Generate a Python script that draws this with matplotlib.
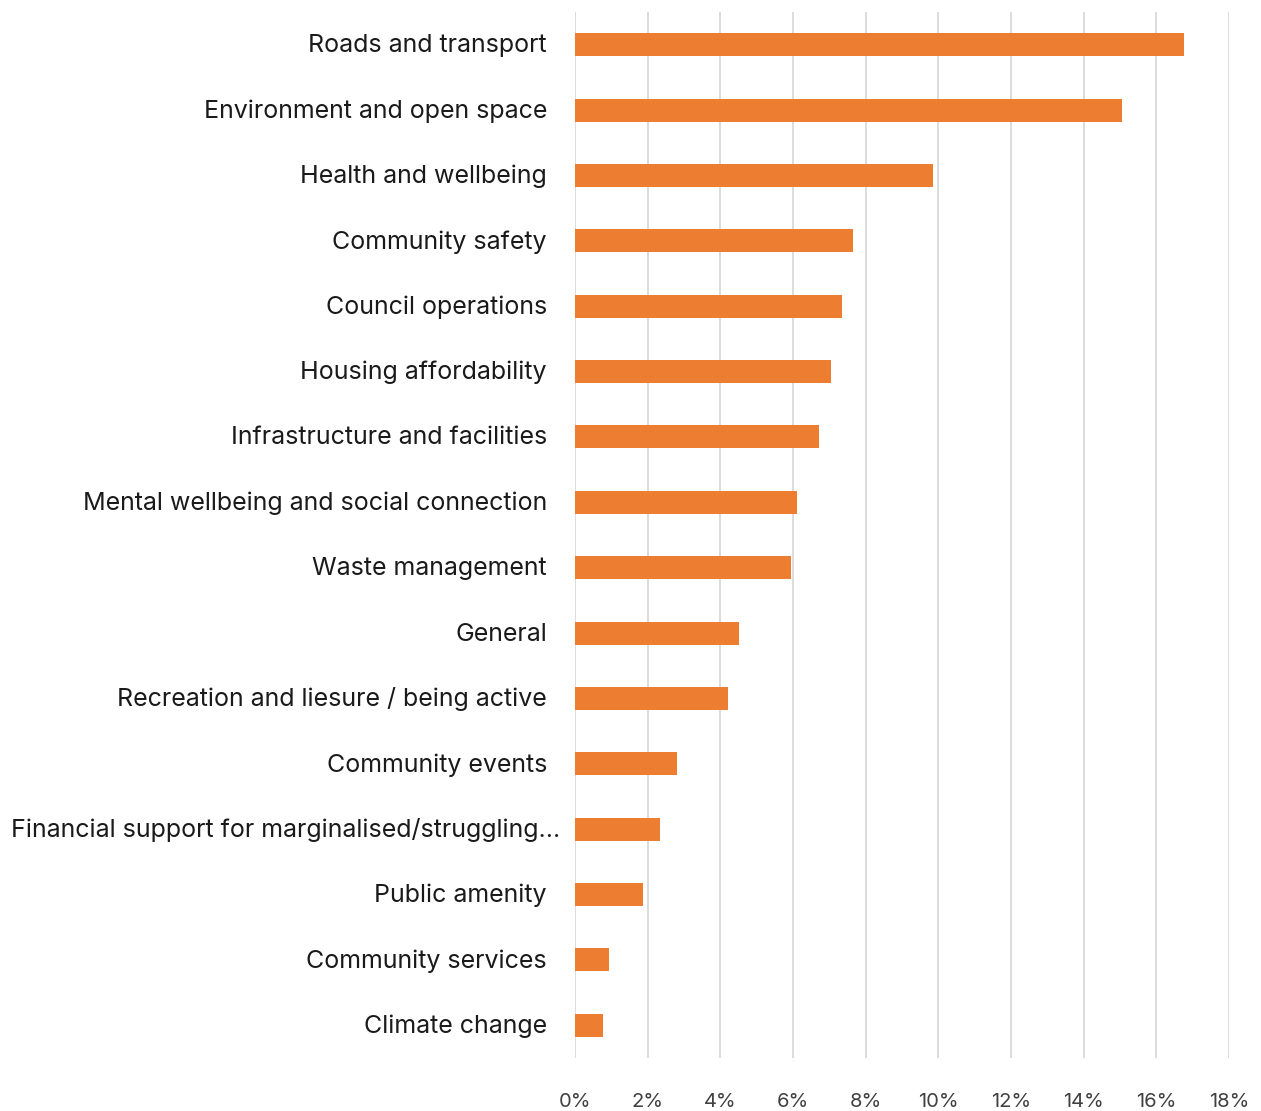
import matplotlib.pyplot as plt
import numpy as np

categories = [
    'Roads and transport',
    'Environment and open space',
    'Health and wellbeing',
    'Community safety',
    'Council operations',
    'Housing affordability',
    'Infrastructure and facilities',
    'Mental wellbeing and social connection',
    'Waste management',
    'General',
    'Recreation and liesure / being active',
    'Community events',
    'Financial support for marginalised/struggling\u2026',
    'Public amenity',
    'Community services',
    'Climate change',
]
values = [16.75, 15.05, 9.85, 7.65, 7.35, 7.05, 6.72, 6.1, 5.95,
          4.52, 4.2, 2.8, 2.33, 1.87, 0.93, 0.77]
xticks = np.arange(0, 19, 2)
xtick_labels = [f'{t}%' for t in xticks]

plt.rcParams['font.family'] = ['Inter', 'DejaVu Sans']

fig = plt.figure(figsize=(12.61, 11.11), dpi=100)
ax = fig.add_axes([575/1261, 1 - 1058/1111, (1229 - 575)/1261, (1058 - 12)/1111])

y = np.arange(len(categories))
ax.barh(y, values, height=0.35, color='#ED7D31', zorder=3)

ax.set_xlim(0, 18)
ax.set_ylim(len(categories) - 0.5, -0.5)
ax.set_xticks(xticks)
ax.set_xticklabels(xtick_labels, fontsize=14.5, color='#404040')
ax.tick_params(axis='x', length=0, pad=25)
ax.set_yticks(y)
ax.set_yticklabels([])
ax.tick_params(axis='y', length=0)

for yi, cat in zip(y, categories):
    # the long label overhangs the axis a little, like the original
    xoff = -15 if cat.endswith('\u2026') else -28
    ax.annotate(cat, xy=(0, yi), xycoords=('axes fraction', 'data'),
                xytext=(xoff, -1), textcoords='offset pixels',
                ha='right', va='center', fontsize=18, color='#1a1a1a')

ax.grid(axis='x', color='#D9D9D9', linewidth=1.3, zorder=0)
for s in ax.spines.values():
    s.set_visible(False)

fig.savefig('out.png', dpi=100)
